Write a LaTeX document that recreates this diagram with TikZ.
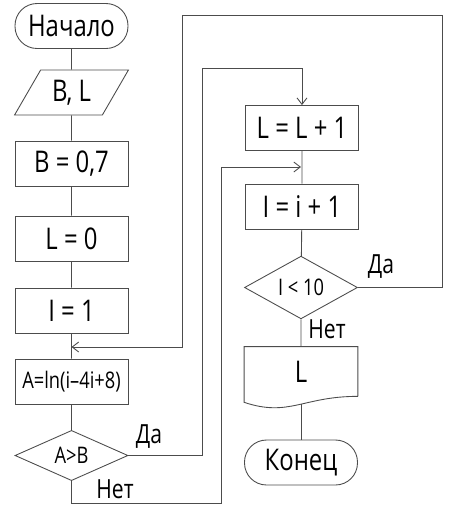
\documentclass[tikz,border=0pt]{standalone}
\usepackage{fontspec}
\setmainfont{Open Sans}[FakeStretch=0.8]
\usetikzlibrary{shapes.geometric,arrows.meta}
\tikzset{>={Straight Barb[length=1.3mm,width=2mm]}}
\newcommand{\bigtxt}{\fontsize{17}{20}\selectfont}
\newcommand{\midtxt}{\fontsize{13}{15}\selectfont}
\newcommand{\lbltxt}{\fontsize{15}{17}\selectfont}
\tikzset{
  lin/.style={draw=black!70, line width=0.5pt},
  blok/.style={lin, rectangle, minimum width=2.26cm, minimum height=0.9cm, inner sep=1pt, font=\bigtxt},
  term/.style={blok, rounded corners=0.44cm},
  vvod/.style={lin, trapezium, trapezium left angle=58, trapezium right angle=122, trapezium stretches=true, minimum width=2.28cm, minimum height=0.9cm, inner sep=1pt, font=\bigtxt},
  usl/.style={lin, diamond, minimum width=2.26cm, minimum height=0.9cm, inner sep=0pt, font=\midtxt},
  docum/.style={rectangle, minimum width=2.26cm, minimum height=0.98cm, inner sep=1pt, font=\bigtxt},
  lbl/.style={font=\lbltxt, inner sep=0pt}
}
\begin{document}
\begin{tikzpicture}[x=0.02cm, y=-0.02cm]
    \useasboundingbox (0,0) rectangle (453,512);

    % left column
    \node[term] (start) at (71.5,26) {Начало};
    \node[vvod] (io) at (71.5,92.5) {B, L};
    \node[blok] (b07) at (71.5,163.5) {B = 0,7};
    \node[blok] (l0) at (71.5,238.5) {L = 0};
    \node[blok] (i1) at (71.5,310.5) {I = 1};
    \node[blok, font=\midtxt] (formula) at (71.5,381.5) {A=ln(i–4i+8)};
    \node[usl] (cond1) at (71.5,455.5) {A>B};

    % right column
    \node[blok] (incL) at (302,128) {L = L + 1};
    \node[blok] (inci) at (302,206.5) {I = i + 1};
    \node[usl] (cond2) at (301,287.5) {I < 10};
    \node[docum] (out) at (301,371.5) {L};
    \node[term] (end) at (301,462.5) {Конец};

    \coordinate (k1) at (301,167);
    \coordinate (k2) at (71.5,347);
    \coordinate (outb) at ([yshift=-0.16cm]out.south);

    \draw[lin] (out.south east) -- (out.north east) -- (out.north west)
        -- ([yshift=-0.12cm]out.south west)
        .. controls +(0.9cm,-0.3cm) and +(-1.1cm,0) .. (out.south east);

    \draw[lin] (start) -- (io) -- (b07) -- (l0) -- (i1) -- (formula) -- (cond1);
    \draw[lin] (incL) -- (inci) -- (cond2) -- (out);
    \draw[lin] (outb) -- (end);

    % loops
    \draw[lin,->] (cond1.east) -| (202,68) -| (incL.north);
    \draw[lin,->] (cond1.south) |- (221,503) |- (k1);
    \draw[lin,->] (cond2.east) -| (442,15) -| (182,347) -- (k2);

    \node[lbl] (da1) at (149,437) {Да};
    \node[lbl] (net1) at (115,489) {Нет};
    \node[lbl] (da2) at (381,267) {Да};
    \node[lbl] (net2) at (327,329) {Нет};
\end{tikzpicture}
\end{document}
